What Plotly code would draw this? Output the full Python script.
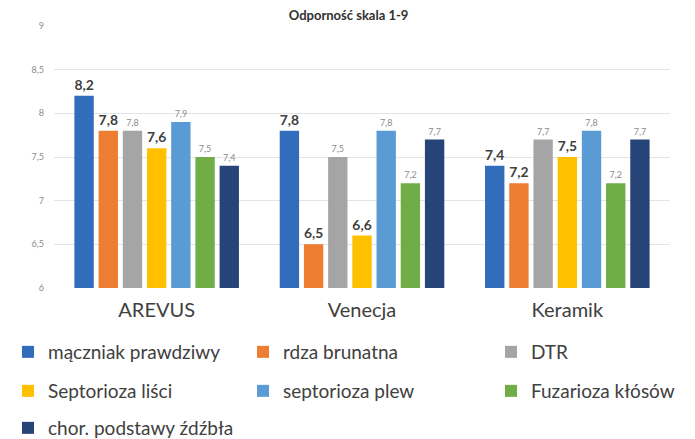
import plotly.graph_objects as go

categories = ["AREVUS", "Venecja", "Keramik"]
series_names = ["mączniak prawdziwy", "rdza brunatna", "DTR", "Septorioza liści",
                "septorioza plew", "Fuzarioza kłósów", "chor. podstawy źdźbła"]
macznia = [8.2, 7.8, 7.4]
rdza = [7.8, 6.5, 7.2]
dtr = [7.8, 7.5, 7.7]
sept_lisci = [7.6, 6.6, 7.5]
sept_plew = [7.9, 7.8, 7.8]
fuzarioza = [7.5, 7.2, 7.2]
chor = [7.4, 7.7, 7.7]
series_values = [macznia, rdza, dtr, sept_lisci, sept_plew, fuzarioza, chor]
colors = ["#316DBA", "#ED7D31", "#A5A5A5", "#FFC000", "#5B9BD5", "#70AD47", "#264478"]
bold_labels = [True, True, False, True, False, False, False]
y_ticks = [6, 6.5, 7, 7.5, 8, 8.5, 9]

# legend grid: (text x px, row y px) for each series
legend_text_x = [45, 283, 531, 45, 283, 531, 45]
legend_row_y = [350, 350, 350, 389, 389, 389, 426]

W, H = 695, 439
fig = go.Figure()
legends = {}
for i, (name, vals, col, bold) in enumerate(zip(series_names, series_values, colors, bold_labels)):
    lg = "legend" if i == 0 else f"legend{i + 1}"
    txt = [(f"<b>{v:.1f}</b>" if bold else f"{v:.1f}").replace(".", ",") for v in vals]
    fig.add_trace(go.Bar(
        x=categories, y=vals, name=name, marker_color=col, marker_line_width=0,
        text=txt, textposition="outside", cliponaxis=False,
        textfont=dict(size=14 if bold else 9, color="#404040" if bold else "#8a8a8a",
                      family="Lato"),
        legend=lg,
    ))
    legends[lg] = dict(orientation="h", xref="container", yref="container",
                       x=(legend_text_x[i] - 48) / W, xanchor="left",
                       y=1 - (legend_row_y[i] - 6) / H, yanchor="middle",
                       font=dict(size=19, color="#404040", family="Lato"),
                       itemwidth=30, bgcolor="rgba(0,0,0,0)")

fig.update_layout(
    width=W, height=H,
    margin=dict(l=46, r=33, t=14, b=154),
    paper_bgcolor="white", plot_bgcolor="white",
    separators=", ",
    barmode="group", bargap=0.175, bargroupgap=0.2,
    title=dict(text="<b>Odporność skala 1-9</b>", x=0.49, xanchor="center",
               y=1 - 3 / H, yanchor="top", yref="container", pad=dict(t=0, b=0),
               font=dict(size=13, color="#303030", family="Lato")),
    xaxis=dict(showgrid=False, showline=False, ticks="",
               tickfont=dict(size=20, color="#404040", family="Lato"), ticklabelstandoff=8),
    yaxis=dict(range=[6, 9], tickvals=y_ticks, showgrid=True, gridcolor="#E4E4E4",
               gridwidth=1, zeroline=False, showline=False, ticks="",
               tickfont=dict(size=9, color="#8c8c8c", family="Lato"), ticklabelstandoff=9),
    showlegend=True,
    **legends,
)

fig.write_html("out.html")
